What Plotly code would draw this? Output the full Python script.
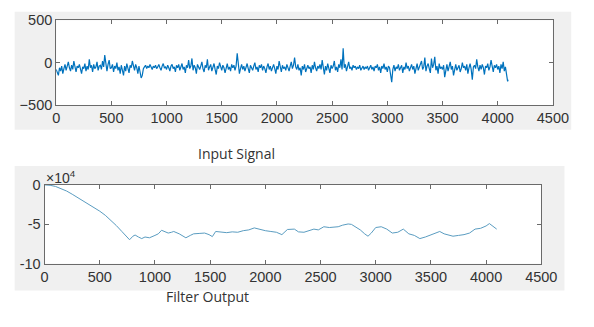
import numpy as np
import plotly.graph_objects as go

# ---------------- data ----------------
# Input signal: samples every 10 points (0..4090), plus the last sample
input_groups = [
    [-80, -120, -150, -60, -100, -40, -130, -70, -20, -90],
    [-50, 10, -60, -100, -30, -80, 20, -70, -110, -40],
    [-60, -20, -90, -130, -50, -70, -10, -100, -40, -80],
    [40, -60, -30, -110, -20, -70, -50, 10, -90, -40],
    [-30, -80, 20, -50, 90, -40, -100, -20, 30, -70],
    [-60, -20, -110, -40, -70, 0, -90, -50, -130, -30],
    [-80, -150, -40, -100, -10, -70, -120, -30, -60, 20],
    [-50, -90, -20, -60, -130, -40, -110, -180, -150, -70],
    [-50, -30, -70, -40, -60, -20, -50, -80, -40, -60],
    [-30, -70, -50, -20, -60, -90, -40, -10, -60, -50],
    [-80, -30, -60, -100, -40, -20, -70, -50, -110, -30],
    [-60, -20, -90, -40, -10, -80, -50, -120, -30, -60],
    [30, -70, -40, 50, -90, -30, -60, -130, -20, -50],
    [-80, -40, 10, -70, -110, -30, -60, 40, -90, -50],
    [-20, -100, -50, -10, -80, -140, -40, -70, 0, -60],
    [-90, -30, -60, -120, -40, -10, -80, -50, -100, -20],
    [-60, -30, -90, -40, 110, -50, -130, -70, -20, -80],
    [-40, -100, -60, -10, -70, -120, -30, -60, -90, -40],
    [0, -80, -50, -110, -30, -60, -20, -90, -40, -70],
    [-120, -50, -10, -80, -40, -100, -60, -20, -70, -130],
    [-40, -80, 20, -60, -110, -30, -70, -50, -90, -20],
    [-60, -100, -40, 10, -70, -30, 60, -50, -80, -20],
    [-90, -60, -150, -40, -80, -20, -110, -60, -30, -70],
    [-50, -120, -30, -80, 10, -60, -100, -40, -70, -20],
    [-80, 30, -50, -140, -40, -90, -10, -60, -120, -30],
    [-70, -40, 20, -90, -50, -110, -20, -60, 40, -80],
    [170, -60, -20, -100, -40, 10, -70, -50, -90, -30],
    [-60, -40, -80, -50, -70, -30, -90, -60, -40, -80],
    [-50, -70, -40, -90, -60, -30, -80, -50, -100, -40],
    [-60, -20, -90, -50, -120, -40, -70, -10, -80, -50],
    [-110, -40, -60, -150, -230, -80, -30, -100, -50, -70],
    [-20, -90, -60, -30, -120, -50, -80, 0, -70, -40],
    [-100, -50, -20, -80, -40, -130, -60, -10, -90, -50],
    [-30, 20, -80, -50, 60, -100, -40, -10, -70, -120],
    [50, -60, -20, 70, -90, -40, -130, -10, -70, -50],
    [-80, -30, -170, -60, -20, -100, -50, 10, -80, -40],
    [-150, -60, -20, -90, -50, -30, -110, -70, 0, -60],
    [-40, -90, -20, -130, -60, -10, -80, -200, -50, -30],
    [-70, 40, -50, -100, -30, -80, -20, -60, -140, -40],
    [-60, -10, -90, -50, 30, -70, -110, -30, -60, -20],
    [-80, -40, -120, -20, -70, 10, -100, -50, -160, -220],
]
input_values = [v for g in input_groups for v in g] + [-200]
input_x = list(range(0, 100 * len(input_groups), 10)) + [4095]

# Filter output (in units of 1e4 as drawn)
filter_x = [0, 50, 100, 150, 200, 250, 300, 350, 400, 450, 500, 550, 600, 650, 700, 740, 770,
            800, 820, 850, 880, 910, 950, 1000, 1030, 1060, 1090, 1120, 1150, 1170, 1220,
            1280, 1320, 1350, 1400, 1450, 1490, 1520, 1550, 1600, 1650, 1700, 1750, 1800,
            1850, 1900, 1950, 2000, 2050, 2100, 2150, 2200, 2263, 2300, 2350, 2400, 2440,
            2480, 2530, 2580, 2620, 2660, 2700, 2750, 2780, 2820, 2860, 2900, 2930, 2960,
            3000, 3050, 3100, 3150, 3200, 3250, 3300, 3350, 3400, 3450, 3500, 3540, 3580,
            3620, 3660, 3700, 3750, 3800, 3850, 3900, 3950, 4000, 4030, 4060, 4096]
filter_vals = [0, -0.05, -0.2, -0.45, -0.78, -1.18, -1.6, -2.02, -2.45, -2.88, -3.33, -3.85, -4.45,
               -5.15, -5.9, -6.5, -6.95, -6.5, -6.35, -6.6, -6.8, -6.6, -6.7, -6.4, -6.2,
               -5.75, -5.95, -6.1, -6.0, -5.9, -6.2, -6.7, -6.4, -6.2, -6.15, -6.1, -6.3,
               -6.55, -5.9, -6.0, -6.05, -5.95, -6.0, -5.8, -5.7, -5.45, -5.65, -5.8, -5.9,
               -6.0, -6.3, -5.65, -5.6, -5.95, -6.0, -5.75, -5.6, -5.7, -5.3, -5.4, -5.35,
               -5.3, -5.1, -4.95, -5.0, -5.3, -5.7, -6.2, -6.5, -6.1, -5.4, -5.3, -5.6,
               -6.1, -6.0, -5.6, -6.2, -6.4, -6.8, -6.6, -6.3, -6.1, -5.9, -6.2, -6.4,
               -6.5, -6.4, -6.3, -6.1, -5.6, -5.5, -5.2, -4.9, -5.2, -5.6]
filter_scaled = [v * 1e4 for v in filter_vals]

x_ticks = [0, 500, 1000, 1500, 2000, 2500, 3000, 3500, 4000, 4500]
top_y_ticks = [-500, 0, 500]
bot_y_ticks = [-100000, -50000, 0]
bot_y_text = ["-10", "-5", "0"]

# ---------------- figure ----------------
W, H = 594, 327


def px(x):
    return x / W


def py(y):
    return 1 - y / H


fig = go.Figure()
fig.add_trace(go.Scatter(x=input_x, y=input_values, mode="lines",
                         line=dict(color="#0072BD", width=1.2), xaxis="x", yaxis="y",
                         showlegend=False, hoverinfo="skip"))
fig.add_trace(go.Scatter(x=filter_x, y=filter_scaled, mode="lines",
                         line=dict(color="#5a9cc0", width=1), xaxis="x2", yaxis="y2",
                         showlegend=False, hoverinfo="skip"))

axis_common = dict(showline=True, linecolor="#6a6a6a", linewidth=1, mirror="allticks",
                   ticks="inside", ticklen=4, tickcolor="#6a6a6a", showgrid=False,
                   zeroline=False, tickfont=dict(family="Liberation Sans", size=14.5,
                                                 color="#333333"))

fig.update_layout(
    width=W, height=H, margin=dict(l=0, r=0, t=0, b=0),
    paper_bgcolor="white", plot_bgcolor="white",
    xaxis=dict(domain=[px(54), px(568)], range=[0, 4500], tickvals=x_ticks,
               anchor="y", **axis_common),
    yaxis=dict(domain=[py(102), py(13)], range=[-500, 500], tickvals=top_y_ticks,
               anchor="x", **axis_common),
    xaxis2=dict(domain=[px(42), px(556)], range=[0, 4500], tickvals=x_ticks,
                anchor="y2", **axis_common),
    yaxis2=dict(domain=[py(269), py(186)], range=[-100000, 0], tickvals=bot_y_ticks,
                ticktext=bot_y_text, anchor="x2", **axis_common),
    shapes=[
        dict(type="rect", xref="paper", yref="paper", x0=px(11), x1=px(587),
             y0=py(128), y1=py(4), fillcolor="#f0f0f0", line=dict(width=0), layer="below"),
        dict(type="rect", xref="paper", yref="paper", x0=px(11), x1=px(580),
             y0=py(297), y1=py(166), fillcolor="#f0f0f0", line=dict(width=0), layer="below"),
        dict(type="rect", xref="x domain", yref="y domain", x0=0, x1=1, y0=0, y1=1,
             fillcolor="white", line=dict(width=0), layer="below"),
        dict(type="rect", xref="x2 domain", yref="y2 domain", x0=0, x1=1, y0=0, y1=1,
             fillcolor="white", line=dict(width=0), layer="below"),
    ],
    annotations=[
        dict(text="Input Signal", x=px(241), y=py(153), xref="paper", yref="paper",
             showarrow=False, font=dict(family="Open Sans", size=14, color="#333333")),
        dict(text="Filter Output", x=px(211), y=py(315), xref="paper", yref="paper",
             showarrow=False, font=dict(family="Open Sans", size=14, color="#333333")),
        dict(text="×10<sup>4</sup>", x=px(41), y=py(178), xref="paper", yref="paper",
             xanchor="left", showarrow=False,
             font=dict(family="Liberation Sans", size=14, color="#333333")),
    ],
)

fig.write_html("out.html")
